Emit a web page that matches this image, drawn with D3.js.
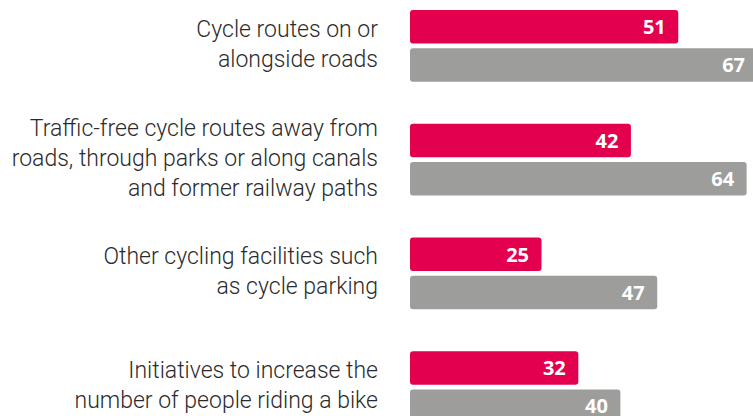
<!DOCTYPE html>
<head>
  <meta charset="utf-8">
  <script src="https://d3js.org/d3.v7.min.js"></script>
  <style>
body { margin:0; background:#fff; overflow:hidden; }
.label { font-family: Roboto, sans-serif; font-weight: 300; font-size: 23px; fill: #2b2b2b; }
.value { font-family: "Open Sans", sans-serif; font-weight: 700; font-size: 20px; fill: #fff; }
  </style>
</head>
<body>
  <script>
const categories = [
  ['Cycle routes on or', 'alongside roads'],
  ['Traffic-free cycle routes away from', 'roads, through parks or along canals', 'and former railway paths'],
  ['Other cycling facilities such', 'as cycle parking'],
  ['Initiatives to increase the', 'number of people riding a bike']
]
const seriesA = [51, 42, 25, 32]
const seriesB = [67, 64, 47, 40]
const colors = ['#e3004f', '#9d9d9c']

const width = 753
const height = 416
const left = 410

const svg = d3.select('body').append('svg')
  .attr('width', width)
  .attr('height', height)

const idx = d3.range(categories.length)

const y = d3.scaleBand()
  .domain(idx)
  .range([10, 423])
  .paddingInner(0.37)
  .paddingOuter(0)

const ySub = d3.scaleBand()
  .domain([0, 1])
  .range([0, y.bandwidth()])
  .paddingInner(0.12)

const x = d3.scaleLinear()
  .domain([0, 100])
  .range([left, left + 526])

const rows = idx.map(i => ({ i, lines: categories[i], vals: [seriesA[i], seriesB[i]] }))

const group = svg.selectAll('.group')
  .data(rows)
  .enter().append('g')
  .attr('class', 'group')
  .attr('transform', d => `translate(0,${y(d.i)})`)

const bar = group.selectAll('.bar')
  .data(d => d.vals.map((v, s) => ({ v, s })))
  .enter().append('g')
  .attr('class', 'bar')

bar.append('rect')
  .attr('x', x(0))
  .attr('y', d => ySub(d.s))
  .attr('width', d => x(d.v) - x(0))
  .attr('height', ySub.bandwidth())
  .attr('rx', 3)
  .attr('fill', d => colors[d.s])

bar.append('text')
  .attr('class', 'value')
  .attr('x', d => Math.min(x(d.v) - 12.5, width - 8))
  .attr('y', d => ySub(d.s) + ySub.bandwidth() / 2)
  .attr('dy', '0.36em')
  .attr('text-anchor', 'end')
  .text(d => d.v)

const lineH = 30
group.each(function (d) {
  const n = d.lines.length
  const mid = y.bandwidth() / 2
  d3.select(this).selectAll('.label')
    .data(d.lines)
    .enter().append('text')
    .attr('class', 'label')
    .attr('x', 378)
    .attr('y', (t, k) => mid + (k - (n - 1) / 2) * lineH)
    .attr('dy', '0.26em')
    .attr('text-anchor', 'end')
    .text(t => t)
})
  </script>
</body>
